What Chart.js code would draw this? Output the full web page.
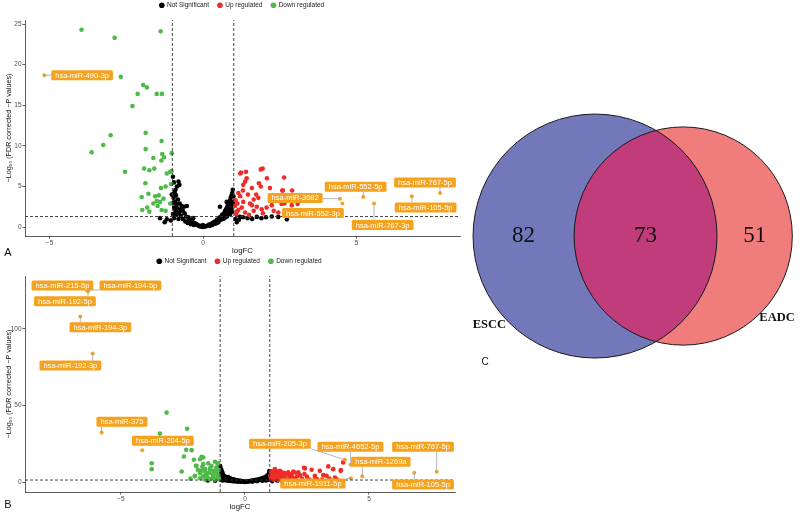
<!DOCTYPE html>
<html>
<head>
<meta charset="utf-8">
<script src="https://cdn.jsdelivr.net/npm/chart.js@4"></script>
<style>
  html, body { margin: 0; padding: 0; background: #fff; }
  #wrap { position: relative; width: 800px; height: 512px; overflow: hidden; }
  canvas { position: absolute; }
</style>
</head>
<body>
<div id="wrap">
  <canvas id="volcA" width="470" height="256" style="left:0px;top:0px"></canvas>
  <canvas id="volcB" width="470" height="256" style="left:0px;top:256px"></canvas>
  <canvas id="venn" width="340" height="300" style="left:460px;top:90px"></canvas>
</div>
<script>
// ---- panel A (ESCC) : [logFC, -log10 FDR]
const notSigA = [[-0.98,6.2],[-0.8,5.6],[-0.77,5.2],[-0.95,5.5],[-0.85,5.0],[-0.9,4.6],[-1.02,4.0],[-0.93,4.3],[-0.88,3.9],[-0.96,3.6],[-0.82,3.4],[-0.91,3.1],[-0.97,3.0],[-0.86,2.8],[-0.76,2.9],[-0.7,2.6],[-0.62,2.5],[-0.53,2.6],[-0.94,2.4],[-0.84,2.3],[-0.72,2.2],[-0.66,2.0],[-0.9,2.0],[-0.78,1.8],[-0.6,1.7],[-0.98,1.6],[-0.86,1.5],[-0.72,1.4],[-0.55,1.3],[-0.48,1.2],[-0.95,1.1],[-0.8,1.0],[-0.66,1.0],[-0.45,0.9],[-0.38,0.8],[-0.58,0.7],[-0.34,0.6],[-0.28,0.5],[-0.5,0.5],[-0.24,0.4],[-0.2,0.3],[-0.4,0.35],[-0.15,0.2],[-0.1,0.15],[-0.3,0.25],[-0.05,0.05],[0.0,0.0],[0.05,0.05],[-0.12,0.1],[-1.4,1.1],[-1.18,0.95],[-1.05,0.8],[-1.25,0.6],[-0.32,1.1],[0.0,0.25],
  [0.1,0.1],[0.15,0.2],[0.2,0.3],[0.25,0.35],[0.3,0.5],[0.35,0.6],[0.4,0.7],[0.45,0.9],[0.5,1.0],[0.55,1.2],[0.6,1.3],[0.62,1.5],[0.66,1.6],[0.7,1.8],[0.72,2.0],[0.75,2.2],[0.78,2.4],[0.8,2.6],[0.83,2.8],[0.85,3.0],[0.88,3.3],[0.9,3.6],[0.93,3.9],[0.95,4.2],[0.97,4.6],[0.58,0.9],[0.68,1.2],[0.74,1.4],[0.82,1.7],[0.86,2.0],[0.92,2.3],[0.96,2.7],[0.4,0.4],[0.5,0.6],[0.3,0.25],[0.65,1.0],[0.78,1.3],[0.88,1.6],[0.95,1.9],[0.98,3.1],[0.55,2.5],[0.77,3.1],[0.22,0.15],[0.45,0.5],[0.7,1.1],[0.84,2.2],[0.92,2.9],[0.99,3.8],
  [1.05,1.0],[1.17,0.9],[1.3,1.2],[1.45,1.1],[1.6,1.0],[1.75,1.25],[1.9,1.1],[2.05,1.2],[2.24,1.3],[2.45,1.25],[2.73,0.95],[1.1,0.6],[1.2,1.25]];
const upA = [[1.24,6.7],[1.40,6.8],[1.88,7.1],[1.94,7.2],[1.42,6.0],[1.37,5.6],[2.08,6.0],[2.64,6.1],[1.31,5.2],[1.82,5.4],[1.88,5.0],[1.59,4.8],[1.15,4.2],[1.21,3.8],[1.46,4.0],[1.73,4.0],[1.80,3.6],[1.31,3.1],[1.53,2.9],[1.59,2.7],[1.75,2.5],[1.91,2.2],[1.15,2.1],[1.04,2.6],[1.10,1.9],[1.37,1.8],[2.58,4.5],[2.65,2.9],[2.89,2.7],[2.35,3.3],[2.24,2.7],[2.07,2.4],[2.18,4.8],[2.60,4.5],[2.90,4.5],[2.81,3.7],[3.08,2.85],[2.56,2.85],[1.21,6.6],[1.06,3.3],[1.12,2.9],[1.26,2.4],[1.08,1.6],[1.5,1.5],[1.65,2.0],[1.95,1.7],[2.3,2.0],[2.45,1.8],[1.3,4.5],[1.65,3.4]];
const downA = [[-3.96,24.3],[-2.88,23.3],[-1.38,24.1],[-2.68,18.5],[-1.95,17.5],[-1.83,17.2],[-2.13,16.4],[-1.51,16.4],[-1.34,16.4],[-2.30,14.9],[-3.63,9.2],[-3.25,10.1],[-3.01,11.3],[-2.54,6.8],[-1.87,11.6],[-1.35,10.6],[-1.87,9.6],[-1.33,9.0],[-1.02,9.1],[-1.62,8.5],[-1.27,8.6],[-1.36,8.2],[-1.92,7.2],[-1.75,7.0],[-1.59,7.2],[-1.18,6.6],[-1.07,6.8],[-1.02,6.9],[-1.88,5.4],[-1.37,4.8],[-1.22,5.0],[-1.04,5.3],[-1.78,4.1],[-2.0,3.7],[-1.56,3.8],[-1.44,3.9],[-1.29,3.5],[-1.51,3.2],[-1.62,2.9],[-1.40,3.1],[-1.07,2.9],[-1.98,2.1],[-1.82,2.4],[-1.75,1.9],[-1.35,2.1],[-1.22,2.0],[-1.48,2.6]];
const namesA = ['hsa-miR-490-3p','hsa-miR-3682','hsa-miR-552-3p','hsa-miR-552-5p','hsa-miR-767-3p','hsa-miR-767-5p','hsa-miR-105-5p'];
const fcA = [-5.17, 4.46, 4.54, 5.22, 5.57, 7.72, 6.80];
const pA = [18.7, 3.5, 2.9, 3.7, 2.9, 4.2, 3.8];
// where the repelled label boxes sit (data units)
const labelAtA = [[-3.94,18.69],[3.0,3.59],[3.58,1.73],[4.97,4.95],[5.85,0.25],[7.23,5.5],[7.25,2.41]];

// ---- panel B (EADC)
const notSigB = [[-1.0,10.4],[-0.98,9.0],[-0.95,8.0],[-0.97,7.0],[-0.92,6.5],[-0.9,5.5],[-0.96,5.0],[-0.88,4.6],[-0.85,4.0],[-0.93,3.6],[-0.8,3.5],[-0.78,3.0],[-0.86,2.6],[-0.74,2.5],[-0.7,2.2],[-0.68,3.2],[-0.64,1.8],[-0.6,2.4],[-0.58,1.5],[-0.55,2.0],[-0.5,1.3],[-0.47,1.8],[-0.44,1.1],[-0.4,1.5],[-0.36,0.9],[-0.32,1.2],[-0.28,0.7],[-0.25,1.0],[-0.2,0.5],[-0.16,0.8],[-0.12,0.3],[-0.08,0.5],[-0.04,0.2],[0,0.1],[0.04,0.3],[0.08,0.2],[0.12,0.5],[0.16,0.4],[0.2,0.7],[0.24,0.6],[0.28,0.9],[0.32,0.8],[0.36,1.1],[0.4,1.0],[0.44,1.4],[0.48,1.2],[0.52,1.7],[0.56,1.5],[0.6,2.0],[0.64,1.8],[0.68,2.4],[0.72,2.1],[0.76,2.9],[0.8,2.6],[0.84,3.4],[0.88,3.1],[0.9,4.2],[0.93,3.8],[0.95,5.0],[0.97,4.5],[0.99,6.0],[0.98,7.2],[-0.99,1.5],[-0.9,1.0],[-0.8,1.2],[-0.7,0.9],[-0.6,0.7],[-0.5,0.5],[-0.4,0.4],[-0.3,0.3],[-0.2,0.2],[0.3,0.3],[0.5,0.5],[0.7,0.8],[0.85,1.0],[0.95,1.5],[-0.95,2.0],[-0.85,1.6],[0.9,2.2],[0.98,2.8],[-1.2,0.8],[-1.5,1.0],[1.1,0.6],[1.3,1.0],[1.5,0.9],[1.8,1.1]];
const upB = [[1.21,8.4],[1.41,7.3],[1.95,6.9],[2.38,9.3],[2.69,8.0],[3.36,10.2],[3.56,8.4],[3.86,7.3],[3.96,12.8],[3.16,4.5],[3.63,3.0],[2.82,4.1],[2.22,4.5],[1.81,4.1],[1.61,5.8],[1.08,5.2],[1.28,3.0],[1.52,3.7],[1.75,6.3],[3.02,7.3],[3.87,7.8],[3.29,4.1],[2.42,8.9],[2.15,6.3],[1.88,5.2],[1.48,6.3],[1.34,3.0],[1.08,4.1],[1.61,1.9],[2.02,2.4],[2.82,2.6],[1.05,2.0],[1.1,3.0],[1.15,4.5],[1.2,2.5],[1.25,5.5],[1.3,1.8],[1.35,3.5],[1.4,4.8],[1.45,2.2],[1.5,6.0],[1.55,3.0],[1.6,4.2],[1.65,2.0],[1.7,5.0],[1.1,6.2],[1.05,7.0],[1.2,8.0],[1.3,6.8],[1.15,1.5],[1.02,4.0],[1.35,1.4],[1.9,3.2],[2.1,3.8],[2.3,2.2],[2.5,3.5],[2.6,1.6],[2.9,2.0],[3.1,1.7],[3.4,2.3],[3.7,1.8],[1.8,2.6],[2.0,6.2],[2.4,5.2]];
const downB = [[-3.16,45.3],[-3.43,31.6],[-2.33,34.8],[-3.76,12.3],[-3.76,8.4],[-2.55,6.9],[-2.37,21],[-2.15,20.8],[-2.46,16.7],[-2.06,14.5],[-1.75,16.4],[-1.81,14.9],[-1.98,10.6],[-1.68,11.7],[-1.48,12.3],[-1.21,13.2],[-1.10,11.7],[-1.61,8.4],[-1.41,8.9],[-1.28,7.3],[-1.77,7.3],[-1.57,5.2],[-1.14,5.8],[-2.02,3.7],[-1.48,2.4],[-1.28,3.0],[-1.08,3.7],[-1.68,3.7],[-1.81,6.3],[-1.68,16.0],[-1.08,12.3],[-1.95,10.6],[-1.41,8.4],[-1.21,7.3],[-1.81,5.8],[-1.55,4.1],[-1.28,3.7],[-1.08,4.5],[-2.02,4.1],[-1.81,2.4],[-1.41,1.9],[-1.15,9.5],[-1.35,10.5],[-1.05,7.8],[-1.9,8.0],[-1.6,6.5],[-1.3,5.0],[-1.05,2.2],[-1.2,1.6],[-1.6,1.5],[-2.2,2.2],[-1.72,10.0],[-1.45,6.0],[-1.15,3.0]];
const namesB = ['hsa-miR-215-5p','hsa-miR-194-5p','hsa-miR-192-5p','hsa-miR-194-3p','hsa-miR-192-3p','hsa-miR-375','hsa-miR-204-5p','hsa-miR-205-3p','hsa-miR-4652-5p','hsa-miR-1269a','hsa-miR-1911-5p','hsa-miR-767-5p','hsa-miR-105-5p'];
const fcB = [-6.42, -6.37, -6.33, -6.64, -6.14, -5.78, -4.14, 4.03, 4.26, 4.73, 4.27, 7.73, 6.83];
const pB = [125.8, 125.3, 124.5, 108, 83.8, 32.3, 20.8, 14.5, 11.3, 3.7, 2.4, 6.7, 6.0];
const labelAtB = [[-7.36,128.2],[-4.62,128.2],[-7.26,117.9],[-5.83,101],[-7.04,76],[-4.96,39.3],[-3.31,26.9],[1.41,25],[4.25,23],[5.48,13.3],[2.74,-1.0],[7.18,23],[7.18,-1.6]];

// thresholds
const fcCut = 1;
const pCut = 1.3; // -log10(0.05)

// axis ticks
const xTicksA = [-5, 0, 5];
const yTicksA = [0, 5, 10, 15, 20, 25];
const xTicksB = [-5, 0, 5];
const yTicksB = [0, 50, 100];

// ---- panel C (Venn)
const vennSets = ['ESCC', 'EADC'];
const vennCounts = [82, 73, 51]; // ESCC only, shared, EADC only
const vennGap = 9.0; // distance between the centres, in sqrt(count) units

const COL = { ns: '#000000', up: '#ee2d28', down: '#4fba48', lab: '#f5a31e', line: '#9aa7b3' };
const FONT = '"Liberation Sans", Arial, sans-serif';
Chart.defaults.font.family = FONT;

const yTitle = '\u2212Log\u2081\u2080 (FDR corrected \u2212P values)';
const fmt = v => v < 0 ? '\u2212' + Math.abs(v) : String(v);

function labelPlugin(names, fc, p, at) {
  return {
    id: 'repelLabels',
    afterDatasetsDraw(chart) {
      const { ctx, scales: { x, y } } = chart;
      ctx.save();
      ctx.font = '7.5px ' + FONT;
      names.forEach((name, i) => {
        const px = x.getPixelForValue(fc[i]), py = y.getPixelForValue(p[i]);
        const lx = x.getPixelForValue(at[i][0]), ly = y.getPixelForValue(at[i][1]);
        const w = ctx.measureText(name).width + 8, h = 10;
        const bx = lx - w / 2, by = ly - h / 2;
        const cx = Math.max(bx, Math.min(px, bx + w));
        const cy = Math.max(by, Math.min(py, by + h));
        if (Math.hypot(cx - px, cy - py) > 5) {
          ctx.strokeStyle = COL.line;
          ctx.lineWidth = 0.8;
          ctx.beginPath();
          ctx.moveTo(px, py);
          ctx.lineTo(cx, cy);
          ctx.stroke();
        }
        ctx.fillStyle = COL.lab;
        ctx.beginPath();
        ctx.roundRect(bx, by, w, h, 1.5);
        ctx.fill();
        ctx.fillStyle = '#fff';
        ctx.textAlign = 'center';
        ctx.textBaseline = 'middle';
        ctx.fillText(name, lx, ly + 0.5);
      });
      ctx.restore();
    }
  };
}

function tagPlugin(text, tx, ty) {
  return {
    id: 'panelTag',
    // nudge the legend a little right and up, as in the original figure
    afterLayout(chart) {
      const lg = chart.legend;
      lg.left += 12; lg.right += 12;
      lg.top -= 7; lg.bottom -= 7;
    },
    afterDraw(chart) {
      const ctx = chart.ctx;
      ctx.save();
      ctx.font = '11px ' + FONT;
      ctx.fillStyle = '#111';
      ctx.textAlign = 'center';
      ctx.textBaseline = 'middle';
      ctx.fillText(text, tx, ty);
      ctx.restore();
    }
  };
}

function volcano(id, d) {
  const pts = arr => arr.map(([x, y]) => ({ x, y }));
  const dots = (label, data, color, order) => ({
    label, data: pts(data), backgroundColor: color, borderColor: color,
    pointRadius: 2.3, pointHoverRadius: 2.3, borderWidth: 0, order
  });
  const cut = (data) => ({
    type: 'line', label: 'cut', data, borderColor: '#333', borderWidth: 0.9,
    borderDash: [3, 2], pointRadius: 0, fill: false, order: 0
  });
  return new Chart(document.getElementById(id), {
    type: 'scatter',
    data: {
      datasets: [
        dots('Not Significant', d.notSig, COL.ns, 4),
        dots('Up regulated', d.up, COL.up, 3),
        dots('Down regulated', d.down, COL.down, 3),
        { label: 'labelled', data: d.fc.map((v, i) => ({ x: v, y: d.p[i] })), backgroundColor: COL.lab,
          borderWidth: 0, pointRadius: 2, order: 1 },
        cut([{ x: -fcCut, y: d.yMin }, { x: -fcCut, y: d.yMax }]),
        cut([{ x: fcCut, y: d.yMin }, { x: fcCut, y: d.yMax }]),
        cut([{ x: d.xMin, y: pCut }, { x: d.xMax, y: pCut }])
      ]
    },
    options: {
      responsive: false,
      animation: false,
      devicePixelRatio: 1,
      events: [],
      layout: { padding: { left: 0, right: d.padRight, top: 0, bottom: 0 } },
      plugins: {
        tooltip: { enabled: false },
        legend: {
          position: 'top',
          maxHeight: 20,
          labels: {
            filter: item => item.datasetIndex < 3,
            sort: (a, b) => a.datasetIndex - b.datasetIndex,
            usePointStyle: true, pointStyle: 'circle',
            boxWidth: 4, boxHeight: 4, padding: 9,
            font: { size: 6.5 }, color: '#222'
          }
        }
      },
      scales: {
        x: {
          type: 'linear', min: d.xMin, max: d.xMax,
          afterBuildTicks: s => { s.ticks = d.xTicks.map(v => ({ value: v })); },
          afterFit: s => { s.height = 20; },
          ticks: { font: { size: 6.5 }, color: '#4d4d4d', padding: 1, callback: fmt },
          grid: { display: true, drawOnChartArea: false, tickLength: 2.5, color: '#333', lineWidth: 0.8 },
          border: { display: true, color: '#333', width: 0.8 },
          title: { display: true, text: 'logFC', font: { size: 7.8 }, color: '#111', padding: { top: 1, bottom: 0 } }
        },
        y: {
          type: 'linear', min: d.yMin, max: d.yMax,
          afterBuildTicks: s => { s.ticks = d.yTicks.map(v => ({ value: v })); },
          afterFit: s => { s.width = 25; },
          ticks: { font: { size: 6.5 }, color: '#4d4d4d', padding: 1, callback: fmt },
          grid: { display: true, drawOnChartArea: false, tickLength: 2.5, color: '#333', lineWidth: 0.8 },
          border: { display: true, color: '#333', width: 0.8 },
          title: { display: true, text: yTitle, font: { size: 7.2 }, color: '#111', padding: { top: 5, bottom: 0 } }
        }
      }
    },
    plugins: [labelPlugin(d.names, d.fc, d.p, d.labelAt), tagPlugin(d.tag, d.tagX, d.tagY)]
  });
}

volcano('volcA', {
  notSig: notSigA, up: upA, down: downA, names: namesA, fc: fcA, p: pA, labelAt: labelAtA,
  xTicks: xTicksA, yTicks: yTicksA, xMin: -5.8, xMax: 8.37, yMin: -1.1, yMax: 25.5,
  padRight: 10, tag: 'A', tagX: 8, tagY: 253
});
volcano('volcB', {
  notSig: notSigB, up: upB, down: downB, names: namesB, fc: fcB, p: pB, labelAt: labelAtB,
  xTicks: xTicksB, yTicks: yTicksB, xMin: -8.87, xMax: 8.47, yMin: -6.5, yMax: 134.4,
  padRight: 15, tag: 'B', tagX: 8, tagY: 249
});

// ---- Venn
const rESCC = Math.sqrt(vennCounts[0] + vennCounts[1]);
const rEADC = Math.sqrt(vennCounts[1] + vennCounts[2]);
const vennFill = ['#7378ba', '#f07d7c', '#c13c7b'];
// label placement: angle (deg) and distance as a multiple of the radius
const catPlace = [[220, 1.13], [-41, 1.14]];
const rPx = (chart, r) => Math.abs(chart.scales.x.getPixelForValue(r) - chart.scales.x.getPixelForValue(0));

const vennOverlay = {
  id: 'vennOverlay',
  afterDatasetsDraw(chart) {
    const { ctx, scales: { x, y } } = chart;
    const c = [
      { x: x.getPixelForValue(0), y: y.getPixelForValue(0), r: rPx(chart, rESCC) },
      { x: x.getPixelForValue(vennGap), y: y.getPixelForValue(0), r: rPx(chart, rEADC) }
    ];
    ctx.save();
    ctx.beginPath();
    ctx.arc(c[0].x, c[0].y, c[0].r, 0, Math.PI * 2);
    ctx.clip();
    ctx.beginPath();
    ctx.arc(c[1].x, c[1].y, c[1].r, 0, Math.PI * 2);
    ctx.fillStyle = vennFill[2];
    ctx.fill();
    ctx.restore();

    ctx.save();
    ctx.strokeStyle = '#1a1a1a';
    ctx.lineWidth = 1;
    c.forEach(o => { ctx.beginPath(); ctx.arc(o.x, o.y, o.r, 0, Math.PI * 2); ctx.stroke(); });

    // counts in the middle of each region
    const l1 = -rESCC, r1 = rESCC, l2 = vennGap - rEADC, r2 = vennGap + rEADC;
    const mids = [(l1 + l2) / 2, (l2 + r1) / 2, (r1 + r2) / 2];
    ctx.font = '23px "Liberation Serif", "DejaVu Serif", serif';
    ctx.fillStyle = '#111';
    ctx.textAlign = 'center';
    ctx.textBaseline = 'middle';
    vennCounts.forEach((n, i) => ctx.fillText(String(n), x.getPixelForValue(mids[i]), y.getPixelForValue(0)));

    // set names
    ctx.font = 'bold 12.5px "Liberation Serif", "DejaVu Serif", serif';
    const centres = [0, vennGap], radii = [rESCC, rEADC];
    vennSets.forEach((name, i) => {
      const a = catPlace[i][0] * Math.PI / 180, dist = catPlace[i][1] * radii[i];
      ctx.fillText(name, x.getPixelForValue(centres[i] + Math.cos(a) * dist), y.getPixelForValue(Math.sin(a) * dist));
    });

    ctx.font = '10px ' + FONT;
    ctx.fillText('C', 25, 272);
    ctx.restore();
  }
};

new Chart(document.getElementById('venn'), {
  type: 'scatter',
  data: {
    datasets: [
      { label: vennSets[0], data: [{ x: 0, y: 0 }], backgroundColor: vennFill[0], borderWidth: 0,
        pointRadius: ctx => rPx(ctx.chart, rESCC), pointHoverRadius: ctx => rPx(ctx.chart, rESCC) },
      { label: vennSets[1], data: [{ x: vennGap, y: 0 }], backgroundColor: vennFill[1], borderWidth: 0,
        pointRadius: ctx => rPx(ctx.chart, rEADC), pointHoverRadius: ctx => rPx(ctx.chart, rEADC) }
    ]
  },
  options: {
    responsive: false,
    animation: false,
    devicePixelRatio: 1,
    events: [],
    layout: { padding: 0 },
    plugins: { legend: { display: false }, tooltip: { enabled: false } },
    scales: {
      x: { display: false, min: -13.78, max: 20.92 },
      y: { display: false, min: -15.71, max: 14.9 }
    }
  },
  plugins: [vennOverlay]
});
</script>
</body>
</html>
